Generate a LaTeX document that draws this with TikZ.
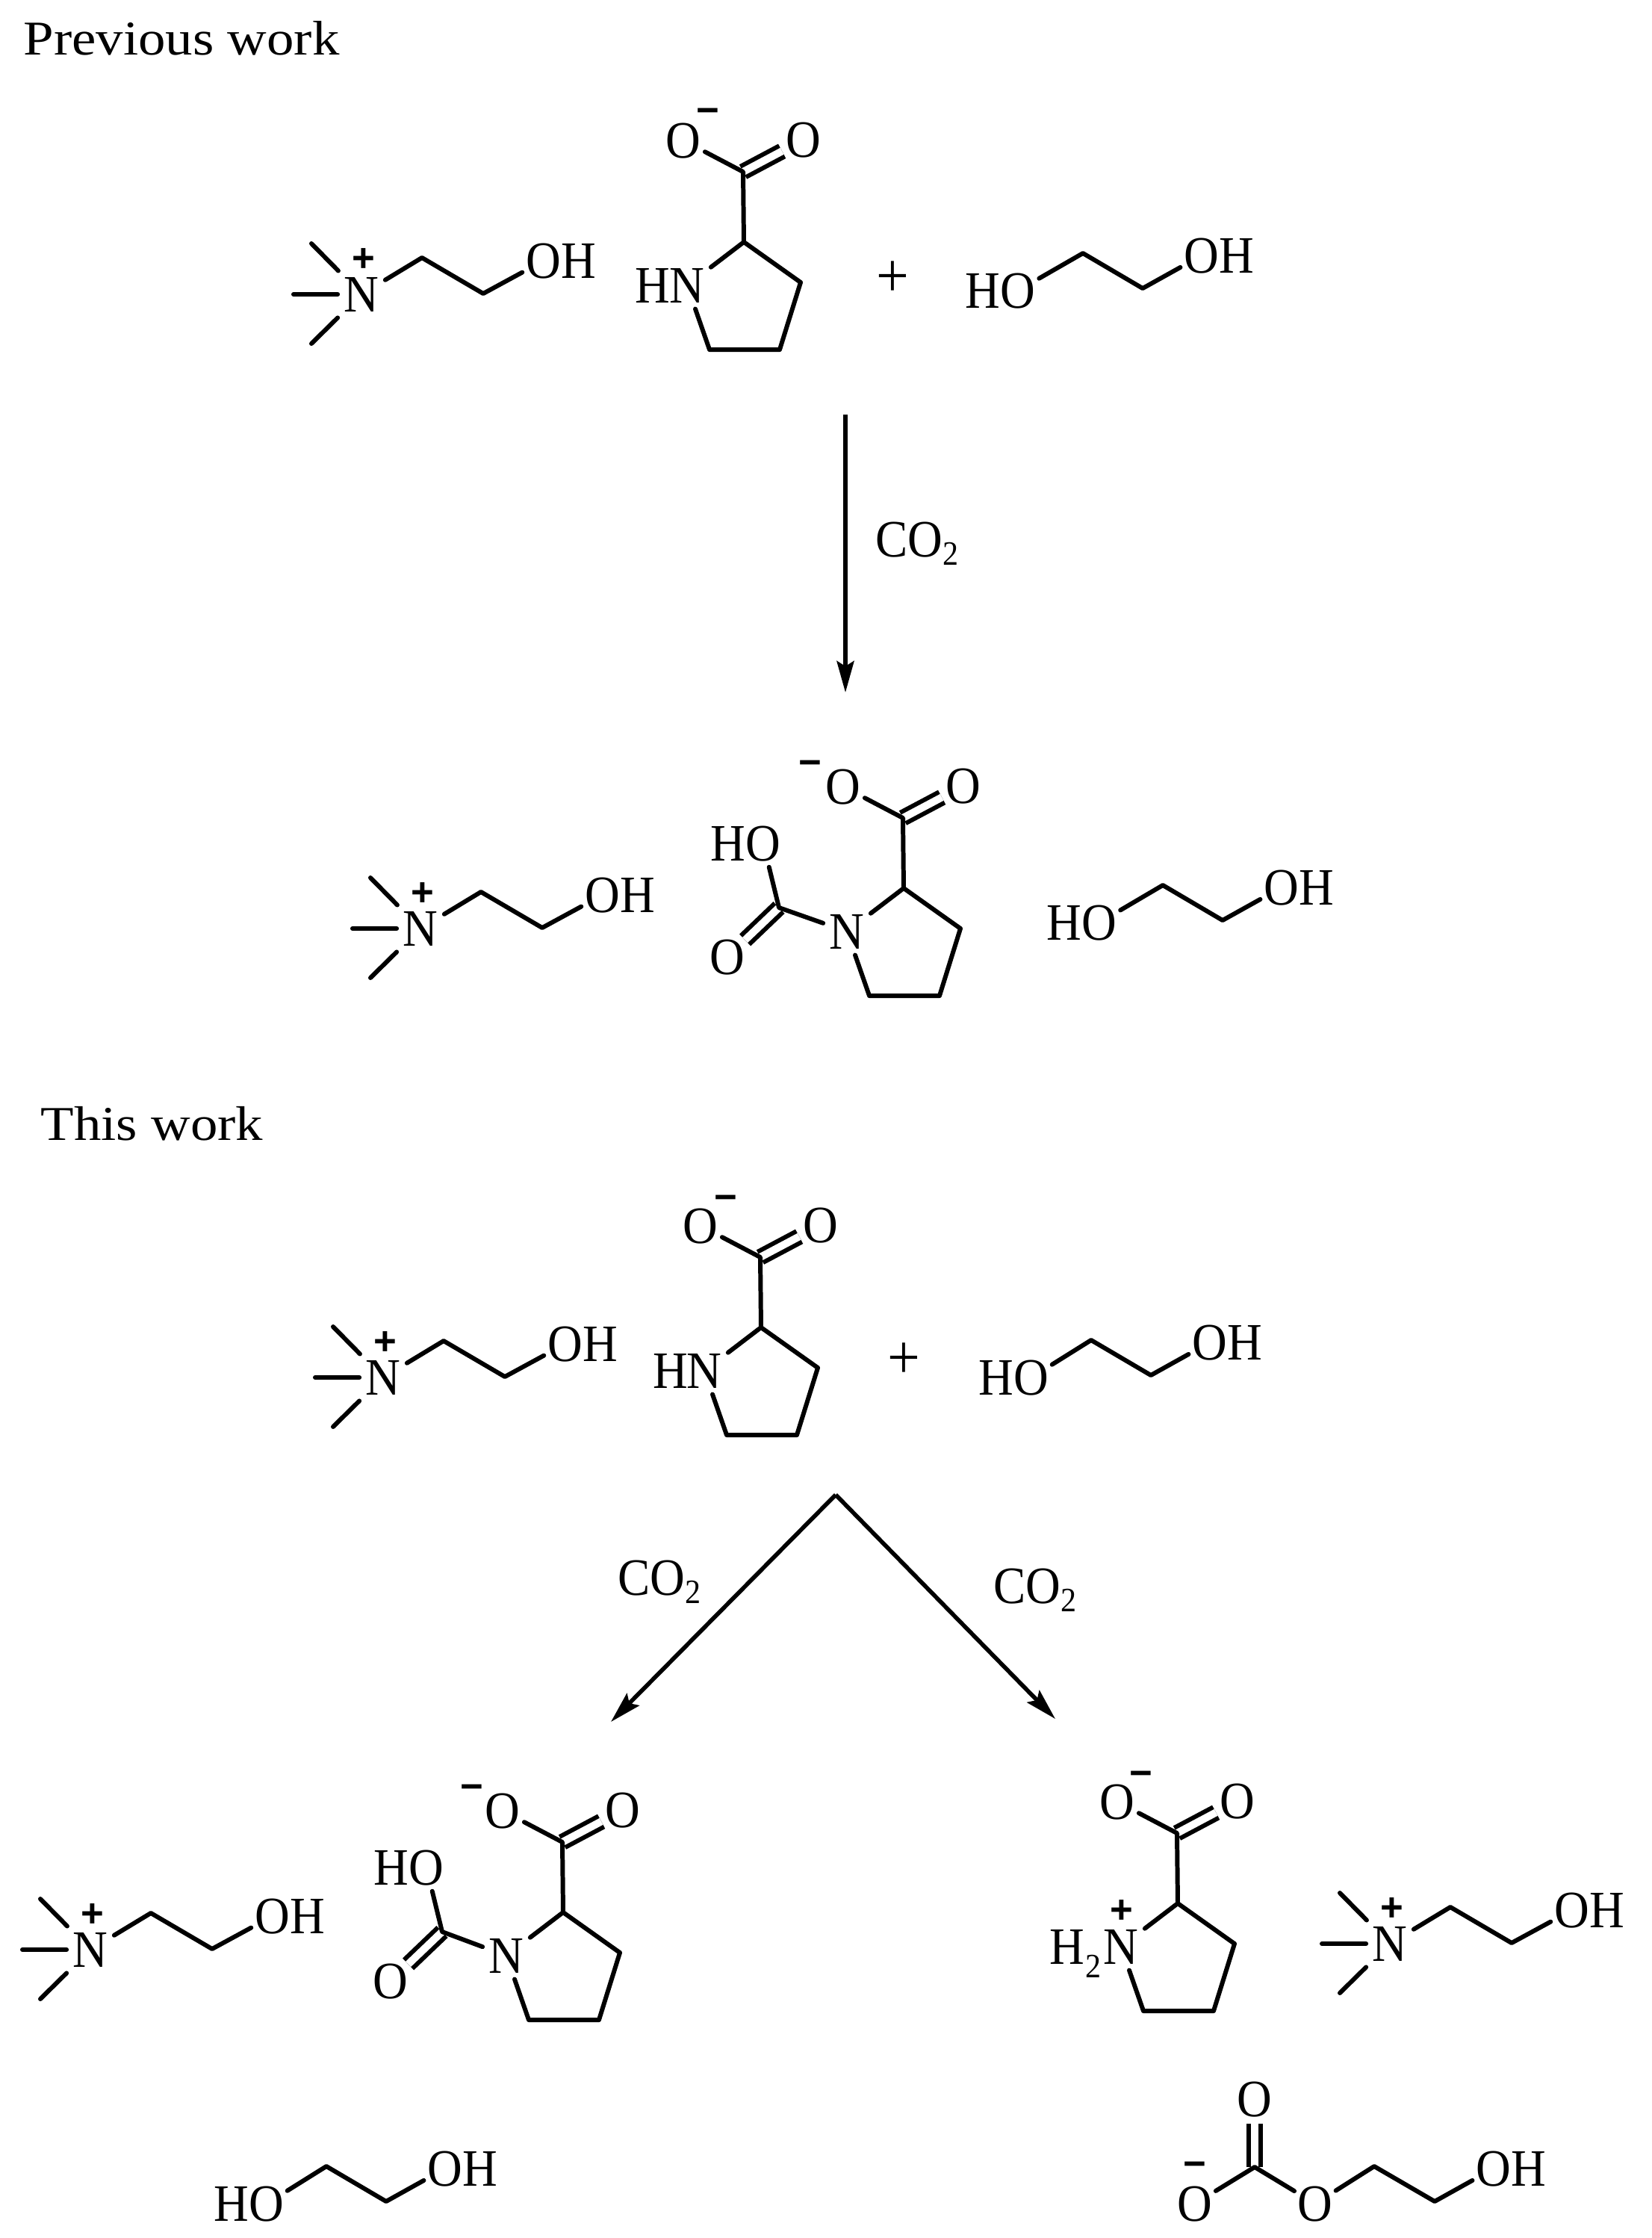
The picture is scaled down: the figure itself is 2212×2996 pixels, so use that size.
\documentclass[tikz,border=0pt]{standalone}
\usepackage{fontspec}
\usetikzlibrary{positioning,arrows.meta}
\setmainfont{Liberation Serif}
\setsansfont{Liberation Sans}
\newfontfamily\chemfont[FakeStretch=0.92]{Liberation Serif}
\newfontfamily\headfont[FakeStretch=1.12]{Liberation Serif}
\newcommand{\subtwo}{\raisebox{-.35ex}{\fontsize{13}{13}\selectfont 2}}
\tikzset{
  bond/.style={line width=1.7pt,line cap=round,line join=round},
  dbond/.style={line width=1.7pt,double,double distance=0.1cm},
  atom/.style={inner sep=0.085cm,outer sep=0pt,text height=0.46cm,text depth=0pt,
    font=\chemfont\fontsize{20}{24}\selectfont},
  oxy/.style={atom,circle,inner sep=0pt},
  charge/.style={inner sep=0pt,yshift=-0.05cm,font=\sffamily\bfseries\fontsize{15}{15}\selectfont},
  reagent/.style={inner sep=0pt,font=\chemfont\fontsize{20}{24}\selectfont},
  heading/.style={inner sep=0pt,anchor=west,font=\headfont\fontsize{18.5}{22}\selectfont},
  rxn/.style={line width=1.6pt,-{Stealth[length=0.42cm,width=0.23cm,inset=0.07cm]}},
}
% choline, placed at its N
\newcommand{\choline}[2]{%
  \begin{scope}[shift={(#2)},name prefix=#1-]
    \node[atom] (n) at (0,-2) {N};
    \node[charge] (plus) at (3,-53) {+};
    \node[oxy] (o) at (244,-47) {O};
    \node[atom] (h) at (291,-47) {H};
    \coordinate (me1) at (-67,-70);
    \coordinate (me2) at (-91,-2);
    \coordinate (me3) at (-67,64);
    \coordinate (c1) at (81,-51);
    \coordinate (c2) at (163,-3);
    \draw[bond] (me1) -- (n);
    \draw[bond] (me2) -- (n);
    \draw[bond] (me3) -- (n);
    \draw[bond] (n) -- (c1) -- (c2) -- (o);
  \end{scope}}
% glycol, placed at its first carbon; #3 moves the HO end sideways
\newcommand{\glycol}[3]{%
  \begin{scope}[shift={(#2)},name prefix=#1-]
    \node[oxy] (oa) at (-80+#3,50) {O};
    \node[atom] (ha) at (-127+#3,50) {H};
    \node[oxy] (ob) at (159,3) {O};
    \node[atom] (hb) at (206,3) {H};
    \coordinate (c1) at (0,0);
    \coordinate (c2) at (80,47);
    \draw[bond] (oa) -- (c1) -- (c2) -- (ob);
  \end{scope}}
% proline ring with carboxylate, placed at the ring carbon; #3 places the minus sign
\newcommand{\proline}[3]{%
  \begin{scope}[shift={(#2)},name prefix=#1-]
    \node[atom] (n) at (-76,58) {N};
    \node[oxy] (oa) at (-81,-136) {O};
    \node[oxy] (ob) at (80,-137) {O};
    \node[charge] (minus) at (#3) {−};
    \coordinate (cc) at (-1,-94);
    \coordinate (ca) at (0,0);
    \coordinate (cb) at (76,54);
    \coordinate (cd) at (48,144);
    \coordinate (ce) at (-46,144);
    \draw[dbond] (cc) -- (ob);
    \draw[bond] (oa) -- (cc) -- (ca);
    \draw[bond] (n) -- (ca) -- (cb) -- (cd) -- (ce) -- (n);
  \end{scope}}
% carbamate arm on the ring nitrogen; #3 moves the arm sideways
\newcommand{\carbamate}[3]{%
  \begin{scope}[shift={(#2)},name prefix=#1-]
    \node[oxy] (oh) at (-183+#3,-60) {O};
    \node[atom] (hh) at (-230+#3,-60) {H};
    \node[oxy] (ok) at (-231+#3,92) {O};
    \coordinate (cm) at (-162+#3,26);
    \draw[dbond] (cm) -- (ok);
    \draw[bond] (oh) -- (cm) -- (#1-n);
  \end{scope}}
\begin{document}
\begin{tikzpicture}[x=0.01cm,y=-0.01cm]
  \useasboundingbox (0,0) rectangle (2212,2996);
  \node[heading] (prev) at (31,51) {Previous work};
  \node[heading] (this) at (54,1504) {This work};

  % top reactants
  \choline{cha}{484,396}
  \proline{pra}{996,324}{-48,-174}
  \node[atom] (pra-h) at (-122+996,58+324) {H};
  \node[reagent] (plusa) at (1195,374) {\fontsize{24}{24}\selectfont +};
  \glycol{gla}{1450,339}{-7}

  \coordinate (arra) at (1132,555);
  \coordinate (arrb) at (1132,927);
  \draw[rxn] (arra) -- (arrb);
  \node[reagent] (coa) at (1228,728) {CO\subtwo};

  % top products
  \choline{chb}{563,1245}
  \proline{prb}{1210,1189}{-125,-166}
  \carbamate{prb}{1210,1189}{-5}
  \glycol{glb}{1557,1185}{-5}

  % lower reactants
  \choline{chc}{513,1846}
  \proline{prc}{1019,1777}{-47,-172}
  \node[atom] (prc-h) at (-121+1019,58+1777) {H};
  \node[reagent] (plusb) at (1210,1822) {\fontsize{24}{24}\selectfont +};
  \glycol{glc}{1461,1794}{0}

  \coordinate (apex) at (1119,2001);
  \coordinate (arrl) at (818,2305);
  \coordinate (arrr) at (1413,2301);
  \draw[rxn] (apex) -- (arrl);
  \draw[rxn] (apex) -- (arrr);
  \node[reagent] (cob) at (883,2118) {CO\subtwo};
  \node[reagent] (coc) at (1386,2129) {CO\subtwo};

  % lower left products
  \choline{chd}{121,2612}
  \proline{prd}{754,2560}{-122,-166}
  \carbamate{prd}{754,2560}{0}
  \glycol{gld}{437,2900}{0}

  % lower right products
  \proline{pre}{1577,2548}{-49,-172}
  \node[atom] (pre-h) at (1577-148,2548+58) {H};
  \node[reagent] (pre-two) at (1577-113,2548+84) {\fontsize{13}{13}\selectfont 2};
  \node[charge] (pre-plus) at (1577-75,2548+6) {+};
  \choline{che}{1861,2604}

  % carbonate
  \node[oxy] (cao) at (1680,2810) {O};
  \node[oxy] (cam) at (1600,2950) {O};
  \node[charge] (caminus) at (1600,2899) {−};
  \node[oxy] (cae) at (1761,2950) {O};
  \node[oxy] (caoh) at (2000,2903) {O};
  \node[atom] (cah) at (2047,2903) {H};
  \coordinate (cac) at (1680,2901);
  \coordinate (caa) at (1840,2900);
  \coordinate (cab) at (1921,2947);
  \draw[dbond] (cac) -- (cao);
  \draw[bond] (cam) -- (cac) -- (cae) -- (caa) -- (cab) -- (caoh);
\end{tikzpicture}
\end{document}
